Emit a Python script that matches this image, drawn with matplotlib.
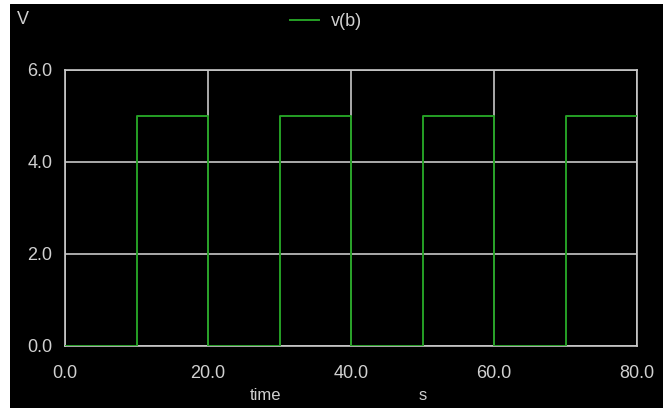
import matplotlib
matplotlib.use("Agg")
import matplotlib.pyplot as plt

plt.rcParams["font.family"] = ["Liberation Sans", "DejaVu Sans"]

# data
time_s = [0, 10, 10, 20, 20, 30, 30, 40, 40, 50, 50, 60, 60, 70, 70, 80]
v_b = [0, 0, 5, 5, 0, 0, 5, 5, 0, 0, 5, 5, 0, 0, 5, 5]
x_ticks = [0, 20, 40, 60, 80]
x_tick_labels = ["0.0", "20.0", "40.0", "60.0", "80.0"]
y_ticks = [0, 2, 4, 6]
y_tick_labels = ["0.0", "2.0", "4.0", "6.0"]

W, H = 666, 408
fig = plt.figure(figsize=(W / 100, H / 100), dpi=100, facecolor="white")
bg = fig.add_axes([10 / W, 0, (663 - 10) / W, (H - 4) / H], zorder=-10)
bg.set_axis_off()
bg.add_patch(plt.Rectangle((0, 0), 1, 1, transform=bg.transAxes, color="black"))

left, right, top, bottom = 65, 637, 70, 346
ax = fig.add_axes([left / W, 1 - bottom / H, (right - left) / W, (bottom - top) / H], zorder=1)
ax.set_facecolor("black")
ax.plot(time_s, v_b, color="#26a026", lw=1.4, zorder=3, label="v(b)")
ax.set_xlim(0, 80)
ax.set_ylim(0, 6)
ax.set_xticks(x_ticks)
ax.set_xticklabels(x_tick_labels)
ax.set_yticks(y_ticks)
ax.set_yticklabels(y_tick_labels)
gc = "#c8c8c8"
ax.grid(True, color=gc, lw=1.2, zorder=1)
for s in ax.spines.values():
    s.set_color(gc)
    s.set_linewidth(1.2)
ax.tick_params(length=0, colors="#d0d0d0", labelsize=13)
ax.tick_params(axis="x", pad=14)
ax.tick_params(axis="y", pad=9)

fig.text(17 / W, 1 - 20 / H, "V", color="#d0d0d0", fontsize=13, va="center")
fig.text(265 / W, 1 - 396 / H, "time", color="#d0d0d0", fontsize=12, ha="center", va="center")
fig.text(423 / W, 1 - 396 / H, "s", color="#d0d0d0", fontsize=12, ha="center", va="center")
leg = fig.legend(loc="center", bbox_to_anchor=(326 / W, 1 - 22 / H), frameon=False,
                 fontsize=13, handlelength=1.6, handletextpad=0.7)
for t in leg.get_texts():
    t.set_color("#d0d0d0")

fig.savefig("out.png", dpi=100, facecolor="white")
